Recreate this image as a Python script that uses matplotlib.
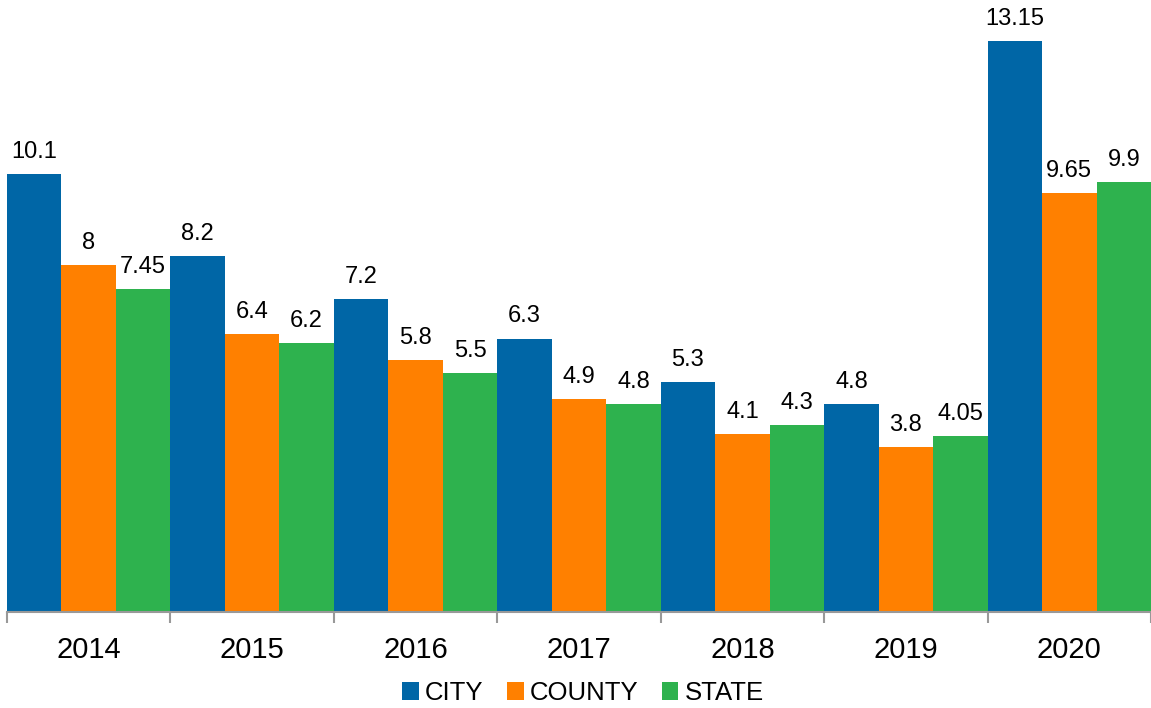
import numpy as np
import matplotlib.pyplot as plt
from matplotlib.ticker import FixedLocator

years = ["2014", "2015", "2016", "2017", "2018", "2019", "2020"]
city = [10.1, 8.2, 7.2, 6.3, 5.3, 4.8, 13.15]
county = [8, 6.4, 5.8, 4.9, 4.1, 3.8, 9.65]
state = [7.45, 6.2, 5.5, 4.8, 4.3, 4.05, 9.9]

plt.rcParams['font.family'] = ['Liberation Sans Narrow', 'Liberation Sans', 'DejaVu Sans']

fig = plt.figure(figsize=(11.51, 7.08), dpi=100)
ax = fig.add_axes([7 / 1151, 96 / 708, 1144 / 1151, 612 / 708])

x = np.arange(len(years))
w = 1 / 3
series = [("CITY", city, "#0066a6"), ("COUNTY", county, "#ff8000"), ("STATE", state, "#2eb24e")]
for k, (name, vals, col) in enumerate(series):
    bars = ax.bar(x + (k - 1) * w, vals, w, color=col, label=name, linewidth=0)
    ax.bar_label(bars, labels=[f"{v:g}" for v in vals], padding=8, fontsize=17)

ax.set_xlim(-0.5, len(years) - 0.5)
ax.set_ylim(0, 14.1)
ax.set_xticks(x)
ax.set_xticklabels(years, fontsize=21)
ax.tick_params(axis="x", which="major", length=0, pad=17)
ax.xaxis.set_minor_locator(FixedLocator(np.arange(-0.5, len(years), 1)))
ax.tick_params(axis="x", which="minor", length=8, width=1.5, color="#999999")
ax.set_yticks([])
for s in ["top", "right", "left"]:
    ax.spines[s].set_visible(False)
ax.spines["bottom"].set_color("#999999")
ax.spines["bottom"].set_linewidth(1.5)

fig.legend(loc="center", bbox_to_anchor=(583 / 1151, 1 - 693 / 708), ncol=3, frameon=False,
           fontsize=18.5, handlelength=0.65, handleheight=0.65, handletextpad=0.25, columnspacing=0.9)

fig.savefig("out.png", dpi=100)
